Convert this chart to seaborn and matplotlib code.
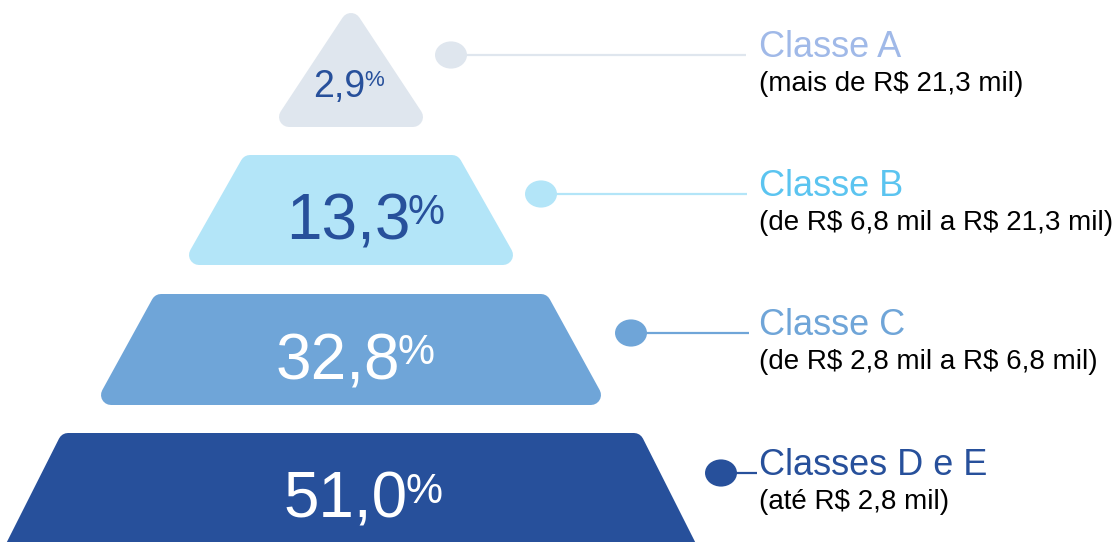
import matplotlib.pyplot as plt
import seaborn as sns
from matplotlib.path import Path
from matplotlib.patches import Polygon
from matplotlib.transforms import Affine2D

# Data
classes = ['Classe A', 'Classe B', 'Classe C', 'Classes D e E']
ranges = ['(mais de R$ 21,3 mil)', '(de R$ 6,8 mil a R$ 21,3 mil)',
          '(de R$ 2,8 mil a R$ 6,8 mil)', '(até R$ 2,8 mil)']
shares = [2.9, 13.3, 32.8, 51.0]

# Colours
fill_colors = ['#dfe6ee', '#b3e5f8', '#6fa5d8', '#27509b']
title_colors = ['#a0b9e8', '#5bc4f0', '#6fa5d8', '#27509b']
value_colors = ['#27509b', '#27509b', 'white', 'white']

# Layout (pixels, y grows downwards)
axis_x = 351
tops = [23, 165, 304, 443]
bottoms = [117, 255, 395, 560]
top_half = [0, 101, 190, 283]
bottom_half = [62, 152, 240, 342]
value_x = [339, 348, 338, 346]
baselines = [97, 239, 379, 518]
value_sizes = [27, 46, 46, 46]
pct_sizes = [16, 30, 30, 30]
dot_x = [451, 541, 631, 721]
dot_y = [55, 194, 333, 473]
line_end = [746, 747, 749, 757]
radius = 10

sns.set_theme(style='white')
plt.rcParams['font.family'] = ['Liberation Sans', 'DejaVu Sans']
plt.rcParams['text.parse_math'] = False

fig = plt.figure(figsize=(11.17, 5.42), dpi=100)
ax = fig.add_axes([0, 0, 1, 1])

# Pyramid levels (rounded corners via a thick round-joined edge)
for i in range(len(shares)):
    if top_half[i] == 0:
        verts = [(axis_x, tops[i]),
                 (axis_x + bottom_half[i], bottoms[i]),
                 (axis_x - bottom_half[i], bottoms[i])]
    else:
        verts = [(axis_x - top_half[i], tops[i]),
                 (axis_x + top_half[i], tops[i]),
                 (axis_x + bottom_half[i], bottoms[i]),
                 (axis_x - bottom_half[i], bottoms[i])]
    ax.add_patch(Polygon(verts, closed=True, facecolor=fill_colors[i],
                         edgecolor=fill_colors[i], linewidth=2 * radius * 0.72,
                         joinstyle='round', zorder=1))

    label = f'{shares[i]:.1f}'.replace('.', ',')
    t = ax.text(value_x[i], baselines[i], label, ha='center', va='baseline',
                fontsize=value_sizes[i], color=value_colors[i], zorder=3)
    dx = -(value_sizes[i] - 24) / 11
    ax.annotate('%', xy=(1, 1), xycoords=t, xytext=(dx, -1),
                textcoords='offset points', ha='left', va='top',
                fontsize=pct_sizes[i], color=value_colors[i], zorder=3)

# Connector lines and dots
ax.hlines(dot_y, dot_x, line_end, colors=fill_colors, linewidth=1.6, zorder=1)
ellipse = Path.unit_circle().transformed(Affine2D().scale(1, 0.85))
sns.scatterplot(x=dot_x, y=dot_y, hue=classes, palette=fill_colors,
                marker=ellipse, s=530, linewidth=0, legend=False, ax=ax,
                zorder=2)
ax.set_xlim(0, 1117)
ax.set_ylim(542, 0)
ax.axis('off')

# Class labels
for i in range(len(classes)):
    ax.text(759, dot_y[i] + 2, classes[i], fontsize=26,
            color=title_colors[i], va='baseline')
    ax.text(759, dot_y[i] + 36, ranges[i], fontsize=20,
            color='black', va='baseline')

fig.savefig('out.png', dpi=100)
